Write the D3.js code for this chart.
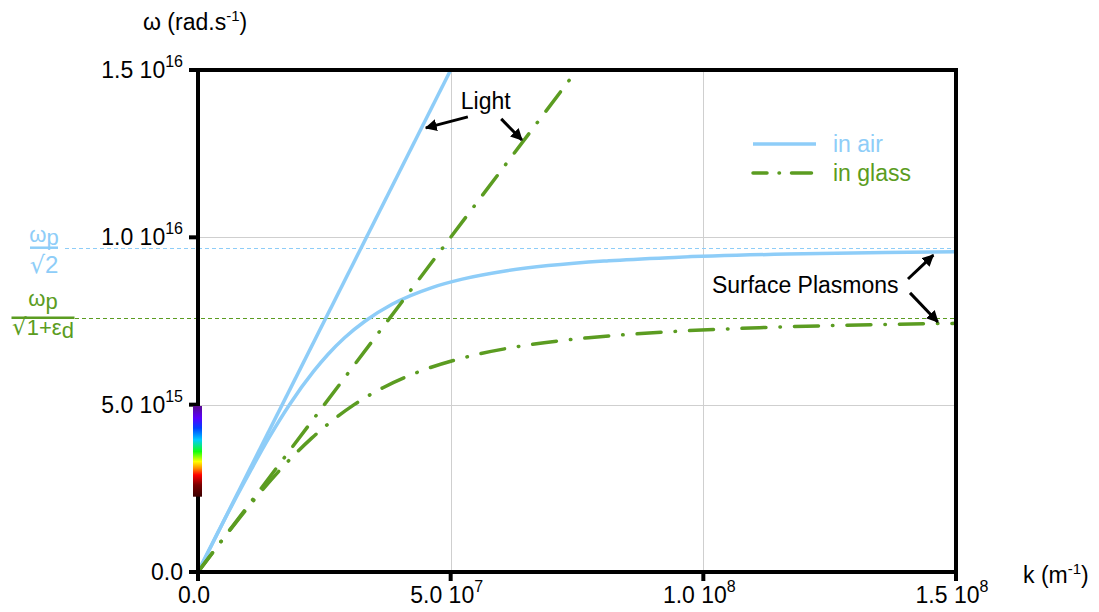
<!DOCTYPE html>
<html>
<head>
<meta charset="utf-8">
<script src="https://cdn.jsdelivr.net/npm/d3@7"></script>
<style>
  body { margin: 0; background: #fff; }
  text { font-family: "Liberation Sans", Arial, sans-serif; }
  .radical { font-family: "DejaVu Sans", sans-serif; }
</style>
</head>
<body>
<div id="chart"></div>
<script>
// values: k in 1e7 m^-1, omega in 1e16 rad/s
var lightAir = [[0, 0], [5.0, 1.5]];
var lightGlass = [[0, 0], [7.5, 1.5]];
var plasmonAir = [[0, 0], [0.334, 0.1], [0.674, 0.2], [1.03, 0.3], [1.40, 0.4], [1.81, 0.5], [2.29, 0.6],
	[2.57, 0.65], [2.90, 0.7], [3.31, 0.75], [3.84, 0.8], [4.63, 0.85], [5.23, 0.875], [6.11, 0.9],
	[8.13, 0.93], [9.43, 0.94], [11.66, 0.95], [13.6, 0.955], [15, 0.957]];
var plasmonGlass = [[0, 0], [0.503, 0.1], [1.026, 0.2], [1.593, 0.3], [2.25, 0.4], [3.09, 0.5], [3.65, 0.55],
	[4.40, 0.6], [5.52, 0.65], [6.39, 0.675], [7.73, 0.7], [8.52, 0.71], [9.57, 0.72], [11.11, 0.73],
	[13.68, 0.74], [15, 0.743]];
var asymptoteAir = 0.969;
var asymptoteGlass = 0.760;

var xTicks = [0, 5, 10, 15];
var xTickText = [["0.0", ""], ["5.0 10", "7"], ["1.0 10", "8"], ["1.5 10", "8"]];
var yTicks = [0, 0.5, 1.0, 1.5];
var yTickText = [["0.0", ""], ["5.0 10", "15"], ["1.0 10", "16"], ["1.5 10", "16"]];

// visible spectrum drawn along the omega axis (omega in 1e16, colour)
var spectrumOmega = [0.496, 0.46, 0.43, 0.395, 0.36, 0.33, 0.31, 0.29, 0.26, 0.225];
var spectrumColor = ["#5b0c8f", "#5a00ff", "#0040ff", "#00ccff", "#10ff10", "#ffff00", "#ff9000", "#ff0000", "#7a0000", "#3a0000"];

var legendItems = [{ name: "in air", color: "#8ecdf8", dash: null }, { name: "in glass", color: "#5b9c21", dash: "24,14,0.5,14" }];

// annotations in data units
var annotations = [
	{ text: "Light", k: 5.2, w: 1.383, arrows: [[5.34, 1.36, 4.51, 1.327], [6.0, 1.354, 6.41, 1.291]] },
	{ text: "Surface Plasmons", k: 10.17, w: 0.834, arrows: [[14.05, 0.8755, 14.55, 0.947], [14.09, 0.834, 14.64, 0.747]] }
];

var airColor = legendItems[0].color, glassColor = legendItems[1].color;

var margin = { top: 70, right: 143, bottom: 40, left: 198 },
	width = 1099 - margin.left - margin.right,
	height = 612 - margin.top - margin.bottom;

var svgRoot = d3.select("#chart").append("svg")
	.attr("width", 1099).attr("height", 612);
var svg = svgRoot.append("g")
	.attr("transform", "translate(" + margin.left + "," + margin.top + ")");

var x = d3.scaleLinear().domain([0, 15]).range([0, width]);
var y = d3.scaleLinear().domain([0, 1.5]).range([height, 0]);
var crisp = v => Math.round(v) + 0.5;

svg.append("clipPath").attr("id", "plot")
	.append("rect").attr("width", width).attr("height", height);

// grid
svg.append("g").selectAll("line").data(xTicks.slice(1, -1)).join("line")
	.attr("x1", d => crisp(x(d))).attr("x2", d => crisp(x(d))).attr("y1", 0).attr("y2", height)
	.attr("stroke", "#cfcfcf").attr("stroke-width", 1);
svg.append("g").selectAll("line").data(yTicks.slice(1, -1)).join("line")
	.attr("y1", d => crisp(y(d))).attr("y2", d => crisp(y(d))).attr("x1", 0).attr("x2", width)
	.attr("stroke", "#cfcfcf").attr("stroke-width", 1);

// asymptotes, continuing into the label area
svg.append("line")
	.attr("x1", 65 - margin.left).attr("x2", width).attr("y1", crisp(y(asymptoteAir))).attr("y2", crisp(y(asymptoteAir)))
	.attr("stroke", airColor).attr("stroke-width", 1).attr("stroke-dasharray", "4,3");
svg.append("line")
	.attr("x1", 75 - margin.left).attr("x2", width).attr("y1", crisp(y(asymptoteGlass))).attr("y2", crisp(y(asymptoteGlass)))
	.attr("stroke", glassColor).attr("stroke-width", 1).attr("stroke-dasharray", "4,3");

var line = d3.line().x(d => x(d[0])).y(d => y(d[1]));
var smooth = d3.line().x(d => x(d[0])).y(d => y(d[1])).curve(d3.curveMonotoneX);

var curves = svg.append("g").attr("clip-path", "url(#plot)");
curves.append("path").datum(lightAir).attr("d", line)
	.attr("fill", "none").attr("stroke", airColor).attr("stroke-width", 3.5);
curves.append("path").datum(plasmonAir).attr("d", smooth)
	.attr("fill", "none").attr("stroke", airColor).attr("stroke-width", 3.5);
curves.append("path").datum(lightGlass).attr("d", line)
	.attr("fill", "none").attr("stroke", glassColor).attr("stroke-width", 3.5)
	.attr("stroke-linecap", "round").attr("stroke-dasharray", legendItems[1].dash);
curves.append("path").datum(plasmonGlass).attr("d", smooth)
	.attr("fill", "none").attr("stroke", glassColor).attr("stroke-width", 3.5)
	.attr("stroke-linecap", "round").attr("stroke-dasharray", legendItems[1].dash);

// frame
var frame = svg.append("g").attr("stroke", "#000").attr("stroke-width", 4).attr("fill", "none");
frame.append("path").attr("d", "M0,0H" + width + "V" + height + "H0Z");

// ticks
frame.selectAll(".yt").data(yTicks).join("line")
	.attr("x1", -9).attr("x2", 0).attr("y1", d => y(d)).attr("y2", d => y(d));
frame.selectAll(".xt").data(xTicks).join("line")
	.attr("y1", height).attr("y2", height + 9).attr("x1", d => x(d)).attr("x2", d => x(d));

// tick labels
svg.append("g").selectAll("text").data(yTicks).join("text")
	.attr("x", -15).attr("y", d => y(d) + 8)
	.attr("text-anchor", "end").attr("font-size", 23)
	.each(function (d, i) {
		var t = d3.select(this);
		t.append("tspan").text(yTickText[i][0]);
		if (yTickText[i][1]) t.append("tspan").attr("dy", -11).attr("font-size", 16).text(yTickText[i][1]);
	});
svg.append("g").selectAll("text").data(xTicks).join("text")
	.attr("x", d => x(d) - 4).attr("y", height + 31)
	.attr("text-anchor", "middle").attr("font-size", 23)
	.each(function (d, i) {
		var t = d3.select(this);
		t.append("tspan").text(xTickText[i][0]);
		if (xTickText[i][1]) t.append("tspan").attr("dy", -11).attr("font-size", 16).text(xTickText[i][1]);
	});

// axis titles
var yTitle = svgRoot.append("text").attr("x", 143).attr("y", 30).attr("font-size", 23);
yTitle.append("tspan").text("ω (rad.s");
yTitle.append("tspan").attr("dy", -9).attr("font-size", 15).text("-1");
yTitle.append("tspan").attr("dy", 9).text(")");
var xTitle = svgRoot.append("text").attr("x", 1023).attr("y", 583).attr("font-size", 23);
xTitle.append("tspan").text("k (m");
xTitle.append("tspan").attr("dy", -9).attr("font-size", 15).text("-1");
xTitle.append("tspan").attr("dy", 9).text(")");

// spectrum bar on the omega axis
var grad = svgRoot.append("defs").append("linearGradient").attr("id", "spectrum")
	.attr("gradientUnits", "userSpaceOnUse")
	.attr("x1", 0).attr("x2", 0).attr("y1", y(spectrumOmega[0])).attr("y2", y(spectrumOmega[spectrumOmega.length - 1]));
var span = y(spectrumOmega[spectrumOmega.length - 1]) - y(spectrumOmega[0]);
grad.selectAll("stop").data(spectrumOmega).join("stop")
	.attr("offset", d => (y(d) - y(spectrumOmega[0])) / span)
	.attr("stop-color", (d, i) => spectrumColor[i]);
svg.append("rect")
	.attr("x", -5).attr("width", 9)
	.attr("y", y(spectrumOmega[0])).attr("height", span)
	.attr("fill", "url(#spectrum)");

// legend
var legend = svg.append("g").attr("transform", "translate(" + (753 - margin.left) + "," + (144 - margin.top) + ")");
legendItems.forEach((item, i) => {
	legend.append("line")
		.attr("x1", 0).attr("x2", 63).attr("y1", i * 29).attr("y2", i * 29)
		.attr("stroke", item.color).attr("stroke-width", 3.5)
		.attr("stroke-linecap", item.dash ? "round" : "butt")
		.attr("stroke-dasharray", item.dash ? "14,12,0.5,12,20" : null);
	legend.append("text").attr("x", 80).attr("y", i * 29 + 8)
		.attr("font-size", 23).attr("fill", item.color).text(item.name);
});

// annotations
svgRoot.append("defs").append("marker").attr("id", "head")
	.attr("viewBox", "0 0 10 10").attr("refX", 9).attr("refY", 5)
	.attr("markerWidth", 4).attr("markerHeight", 4).attr("orient", "auto")
	.append("path").attr("d", "M0,0L10,5L0,10Z").attr("fill", "#000");
annotations.forEach(a => {
	svg.append("text").attr("x", x(a.k)).attr("y", y(a.w))
		.attr("font-size", 23).attr("fill", "#000").text(a.text);
	a.arrows.forEach(ar => {
		svg.append("line")
			.attr("x1", x(ar[0])).attr("y1", y(ar[1])).attr("x2", x(ar[2])).attr("y2", y(ar[3]))
			.attr("stroke", "#000").attr("stroke-width", 3).attr("marker-end", "url(#head)");
	});
});

// plasma frequency labels on the left
function fraction(cx, yNum, yBar, yDen, barW, color, den) {
	var g = svgRoot.append("g").attr("fill", color);
	var num = g.append("text").attr("x", cx).attr("y", yNum).attr("text-anchor", "middle").attr("font-size", 22);
	num.append("tspan").text("ω");
	num.append("tspan").attr("dy", 3).text("p");
	g.append("line").attr("x1", cx - barW / 2).attr("x2", cx + barW / 2).attr("y1", yBar).attr("y2", yBar)
		.attr("stroke", color).attr("stroke-width", 2.5);
	var dt = g.append("text").attr("x", cx).attr("y", yDen).attr("text-anchor", "middle").attr("font-size", 22);
	den(dt);
}
fraction(44, 242, y(asymptoteAir) + margin.top, 273, 28, airColor, t => {
	t.append("tspan").attr("class", "radical").attr("font-size", 24).text("√");
	t.append("tspan").attr("font-size", 24).text("2");
});
fraction(43, 306, y(asymptoteGlass) + margin.top, 335, 63, glassColor, t => {
	t.append("tspan").attr("class", "radical").attr("font-size", 23).text("√");
	t.append("tspan").text("1+ε");
	t.append("tspan").attr("dy", 3).text("d");
});
</script>
</body>
</html>
